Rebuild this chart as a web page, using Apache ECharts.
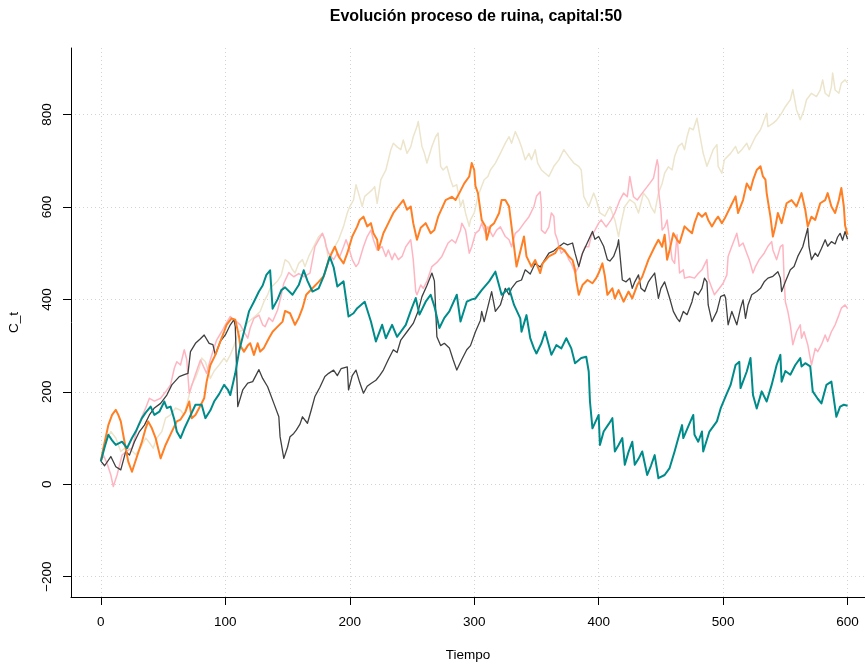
<!DOCTYPE html>
<html>
<head>
<meta charset="utf-8">
<title>Evolución proceso de ruina</title>
<script src="https://cdn.jsdelivr.net/npm/echarts@6/dist/echarts.min.js"></script>
<style>
  html, body { margin: 0; padding: 0; background: #fff; }
  #chart { width: 865px; height: 664px; }
</style>
</head>
<body>
<div id="chart"></div>
<script>
// ejes
var xTicks = [0, 100, 200, 300, 400, 500, 600];
var yTicks = [-200, 0, 200, 400, 600, 800];

// trayectorias [tiempo, capital]
var serieBeige = [[0,50],[4,92],[8,114],[12,100],[16,71],[20,80],[24,75],[28,64],[32,80],[36,100],[39,90],[42,78],[45,100],[49,114],[52,143],[56,150],[60,165],[64,160],[67,150],[69,172],[73,215],[76,230],[79,251],[81,273],[84,265],[88,229],[91,245],[95,258],[99,273],[101,265],[104,280],[107,300],[109,316],[111,330],[115,335],[118,350],[122,359],[125,366],[128,374],[131,395],[134,410],[136,424],[139,432],[142,440],[145,453],[148,486],[151,480],[154,464],[156,457],[159,478],[162,486],[164,471],[167,493],[171,514],[175,536],[178,543],[180,529],[183,486],[185,500],[188,514],[191,529],[195,558],[198,587],[200,601],[203,615],[205,648],[207,630],[210,601],[212,623],[215,630],[218,637],[220,644],[222,608],[225,659],[229,680],[233,724],[235,738],[238,730],[241,724],[243,745],[246,716],[249,730],[251,752],[254,774],[255,785],[258,731],[260,716],[262,695],[266,731],[269,752],[271,760],[273,688],[275,680],[278,688],[281,659],[283,644],[286,648],[289,601],[291,615],[293,587],[296,558],[297,572],[300,587],[303,623],[306,645],[308,659],[311,666],[313,680],[317,695],[321,716],[325,738],[328,752],[330,738],[333,763],[336,745],[338,730],[341,702],[344,716],[346,702],[349,724],[351,695],[354,680],[357,673],[360,666],[364,688],[368,702],[372,724],[376,709],[380,695],[384,688],[386,680],[388,623],[392,601],[396,630],[398,616],[401,587],[405,580],[409,601],[413,572],[416,536],[418,565],[421,601],[425,616],[429,608],[432,587],[436,630],[440,616],[442,601],[445,587],[448,630],[451,651],[453,673],[456,687],[459,680],[461,709],[464,731],[467,738],[469,724],[471,752],[473,771],[476,767],[479,792],[481,760],[484,716],[487,688],[489,702],[492,724],[495,735],[496,688],[499,673],[501,702],[506,716],[510,731],[512,716],[515,724],[519,738],[521,724],[526,752],[530,767],[532,781],[535,803],[536,774],[540,781],[543,788],[547,803],[550,817],[554,832],[556,854],[559,810],[562,789],[565,810],[567,832],[571,846],[575,839],[578,853],[580,875],[582,846],[585,839],[587,860],[588,890],[590,853],[593,846],[595,868],[598,875],[600,868]];

var serieRosa = [[0,50],[2,63],[5,45],[8,20],[10,-5],[13,20],[17,63],[21,72],[25,78],[30,128],[36,165],[39,186],[43,180],[48,186],[52,200],[56,215],[59,251],[61,265],[64,258],[67,291],[69,270],[71,197],[75,230],[80,269],[85,240],[88,270],[93,312],[97,330],[100,345],[104,363],[106,356],[109,352],[112,345],[115,330],[118,316],[120,338],[123,359],[127,366],[130,345],[132,341],[135,360],[138,352],[142,377],[145,410],[147,435],[151,458],[155,449],[159,456],[163,449],[168,457],[172,514],[175,529],[178,543],[180,529],[181,515],[183,500],[187,486],[190,500],[192,493],[195,514],[197,529],[199,514],[202,486],[205,471],[207,478],[211,514],[214,536],[217,550],[219,529],[222,507],[226,514],[229,493],[231,507],[234,486],[236,500],[239,486],[242,493],[245,514],[249,529],[251,486],[253,417],[254,410],[257,431],[259,424],[262,439],[266,471],[270,480],[274,493],[279,522],[282,529],[285,522],[289,550],[290,565],[293,550],[296,500],[298,514],[301,543],[304,550],[306,565],[309,543],[311,557],[315,536],[318,550],[321,557],[325,536],[328,529],[330,514],[333,543],[336,550],[340,565],[344,579],[348,601],[350,623],[353,633],[354,600],[354,550],[357,543],[360,557],[362,587],[364,580],[365,543],[367,528],[368,514],[370,500],[373,507],[376,486],[378,478],[381,457],[384,471],[386,493],[389,514],[392,514],[394,536],[397,550],[400,565],[402,572],[406,557],[410,572],[413,587],[417,615],[420,630],[423,622],[425,666],[428,622],[431,615],[435,630],[437,637],[441,651],[444,662],[447,702],[448,688],[448,637],[450,593],[451,550],[453,557],[455,572],[456,550],[459,486],[461,478],[463,540],[464,500],[465,457],[468,464],[469,446],[473,449],[477,446],[480,456],[483,464],[487,486],[488,446],[491,424],[493,410],[497,424],[500,435],[503,453],[504,493],[507,515],[511,543],[513,515],[516,522],[519,500],[521,486],[524,457],[526,471],[529,486],[533,500],[536,515],[539,525],[540,507],[543,486],[546,514],[548,518],[549,445],[550,395],[552,374],[554,345],[556,302],[559,330],[562,345],[563,316],[565,330],[568,302],[571,258],[574,294],[576,287],[579,302],[582,323],[584,309],[587,330],[590,345],[593,366],[595,381],[598,388],[600,380]];

var serieGris = [[0,50],[3,40],[8,60],[12,38],[16,31],[20,71],[23,63],[27,92],[31,114],[35,128],[39,150],[43,165],[48,175],[53,193],[57,215],[63,233],[67,237],[70,240],[72,287],[76,305],[80,315],[83,323],[87,305],[90,302],[92,280],[96,309],[100,323],[104,345],[107,356],[108,341],[110,168],[114,204],[118,219],[122,222],[127,248],[130,229],[134,211],[139,175],[143,146],[144,103],[147,56],[150,80],[152,103],[155,110],[157,117],[160,130],[162,146],[166,132],[169,160],[172,190],[176,210],[180,233],[183,240],[187,247],[190,235],[193,250],[198,254],[199,204],[202,235],[205,247],[208,220],[211,197],[214,212],[217,218],[221,225],[224,235],[227,247],[231,270],[235,291],[238,285],[241,312],[246,330],[251,348],[255,375],[258,406],[262,430],[266,457],[268,440],[270,319],[273,300],[276,305],[280,295],[283,270],[286,247],[290,270],[294,291],[297,300],[301,330],[305,355],[306,374],[308,352],[312,395],[314,417],[317,374],[321,388],[325,424],[328,410],[330,424],[334,438],[338,442],[341,464],[345,455],[349,478],[353,470],[360,500],[364,505],[368,514],[372,522],[375,518],[379,522],[381,500],[384,471],[387,500],[392,529],[395,547],[397,530],[400,536],[404,515],[407,486],[409,483],[412,493],[415,515],[416,529],[418,471],[419,442],[422,438],[425,446],[427,424],[429,438],[432,453],[434,424],[437,417],[440,438],[442,446],[445,457],[448,402],[450,424],[453,438],[457,403],[460,374],[463,359],[465,352],[468,374],[471,367],[475,395],[477,417],[480,410],[483,424],[485,446],[487,438],[488,388],[491,352],[495,374],[498,406],[501,410],[502,403],[504,345],[507,374],[511,345],[514,381],[516,399],[518,359],[520,388],[523,410],[527,417],[530,424],[533,438],[536,446],[540,450],[544,460],[546,446],[547,417],[550,438],[554,464],[557,471],[560,493],[564,514],[568,554],[569,514],[571,486],[574,500],[576,493],[579,510],[582,529],[584,515],[587,525],[590,520],[592,535],[594,543],[596,528],[598,547],[600,530]];

var serieNaranja = [[0,50],[2,78],[6,128],[9,150],[12,161],[14,150],[16,136],[19,92],[22,49],[25,27],[29,60],[33,92],[36,121],[38,136],[41,121],[44,100],[48,56],[52,85],[57,114],[61,136],[64,140],[68,157],[71,179],[73,143],[76,150],[79,165],[83,186],[85,222],[88,258],[92,280],[96,309],[99,330],[101,345],[105,359],[108,356],[111,320],[112,300],[115,287],[118,300],[120,305],[123,280],[126,305],[128,287],[131,295],[135,316],[138,330],[142,341],[146,352],[148,375],[152,370],[156,345],[159,360],[162,381],[165,410],[170,424],[175,438],[179,450],[180,457],[183,486],[188,514],[191,493],[195,478],[198,500],[202,536],[206,558],[208,572],[211,579],[214,558],[217,565],[219,543],[222,529],[223,507],[227,543],[231,565],[235,587],[239,601],[243,615],[246,594],[249,601],[251,565],[254,529],[257,555],[261,565],[265,543],[268,550],[271,579],[277,615],[282,622],[285,615],[288,630],[292,651],[296,666],[298,695],[300,680],[301,645],[303,630],[306,572],[309,558],[310,529],[313,558],[316,565],[320,587],[322,615],[325,615],[328,601],[329,579],[332,514],[334,471],[340,536],[342,493],[346,471],[349,485],[353,457],[355,478],[360,493],[365,500],[368,514],[372,507],[376,493],[379,485],[381,464],[382,440],[384,410],[387,431],[391,442],[395,435],[398,446],[400,457],[403,478],[405,450],[407,410],[411,424],[413,402],[416,420],[420,395],[424,417],[427,402],[431,431],[435,449],[440,486],[445,514],[448,529],[451,514],[453,540],[455,486],[457,507],[460,543],[463,529],[465,522],[469,558],[472,550],[475,543],[477,565],[480,587],[483,579],[486,587],[488,572],[491,558],[494,572],[496,579],[499,565],[502,579],[506,601],[510,623],[512,587],[516,615],[519,651],[522,637],[524,658],[527,680],[530,688],[532,666],[534,659],[535,630],[538,579],[540,536],[542,558],[544,587],[547,565],[551,608],[555,615],[559,601],[563,630],[566,594],[568,558],[571,579],[574,572],[578,608],[582,615],[584,630],[587,601],[590,587],[593,615],[595,641],[597,601],[598,560],[600,540]];

var serieVerde = [[0,50],[3,80],[6,107],[9,95],[12,85],[17,92],[21,78],[25,100],[28,114],[33,143],[36,155],[40,168],[43,150],[47,157],[51,179],[53,165],[56,168],[59,140],[61,114],[64,100],[67,120],[71,143],[76,172],[81,172],[84,143],[88,160],[91,179],[95,195],[99,215],[102,205],[104,193],[108,240],[111,287],[115,330],[119,374],[123,395],[127,417],[130,430],[133,453],[136,463],[138,380],[142,400],[145,420],[148,426],[154,410],[159,431],[163,463],[166,440],[170,417],[175,424],[179,450],[184,492],[187,470],[190,428],[195,439],[199,363],[203,370],[206,381],[212,395],[217,352],[221,309],[226,345],[229,316],[234,345],[238,319],[241,330],[245,345],[249,375],[253,403],[256,367],[261,395],[265,410],[268,385],[272,338],[276,360],[280,374],[286,410],[289,352],[294,395],[298,400],[301,402],[306,420],[312,439],[317,460],[322,410],[328,424],[332,388],[337,359],[338,330],[342,366],[345,316],[348,294],[350,283],[354,305],[357,330],[362,280],[366,301],[370,294],[374,316],[378,294],[381,262],[386,273],[390,276],[392,244],[393,179],[395,121],[400,150],[401,85],[404,114],[408,130],[411,143],[413,71],[416,85],[419,100],[421,42],[424,70],[427,92],[429,42],[432,55],[435,71],[439,20],[442,40],[445,63],[448,13],[453,20],[457,35],[461,71],[464,100],[467,128],[468,100],[472,125],[476,150],[477,107],[480,92],[483,114],[484,71],[489,114],[495,136],[498,164],[502,190],[506,215],[510,258],[513,265],[514,208],[519,244],[522,273],[524,193],[527,164],[531,201],[535,179],[539,215],[543,258],[546,280],[547,222],[550,245],[554,237],[558,258],[562,273],[563,255],[566,262],[570,255],[572,201],[576,185],[579,175],[583,215],[587,222],[591,146],[594,168],[597,172],[600,170]];

var FONT = 'Liberation Sans';

var myChart = echarts.init(document.getElementById('chart'));

function linea(datos, color, ancho) {
    return {
        type: 'line',
        data: datos,
        showSymbol: false,
        symbol: 'none',
        clip: true,
        lineStyle: { color: color, width: ancho, join: 'round' },
        itemStyle: { color: color },
        silent: true
    };
}

// signo menos tipografico como en R
function etiqueta(v) {
    return String(v).replace('-', '\u2212');
}

// rejilla punteada
var rejilla = [];
xTicks.forEach(function(v){ rejilla.push({ xAxis: v }); });
yTicks.forEach(function(v){ rejilla.push({ yAxis: v }); });

var serieRejilla = {
    type: 'line',
    data: [],
    silent: true,
    markLine: {
        z: 0,
        silent: true,
        symbol: ['none', 'none'],
        label: { show: false },
        lineStyle: { color: '#d3d3d3', type: [1, 3], width: 1 },
        data: rejilla
    }
};

var option = {
    animation: false,
    backgroundColor: '#fff',
    title: {
        text: 'Evolución proceso de ruina, capital:50',
        left: 471,
        top: 4,
        textAlign: 'center',
        textStyle: { fontFamily: FONT, fontSize: 16, fontWeight: 'bold', color: '#000' }
    },
    grid: { left: 71, right: 0, top: 48, bottom: 67, outerBoundsMode: 'none' },
    xAxis: {
        type: 'value',
        min: -24,
        max: 614,
        name: 'Tiempo',
        nameLocation: 'middle',
        nameGap: 51,
        nameTextStyle: { fontFamily: FONT, fontSize: 13.5, color: '#000' },
        axisLine: { show: true, onZero: false, lineStyle: { color: '#000', width: 1 } },
        axisTick: { show: true, length: 8, customValues: xTicks, lineStyle: { color: '#000' } },
        axisLabel: { customValues: xTicks, margin: 18, fontFamily: FONT, fontSize: 13.5, color: '#000' },
        splitLine: { show: false }
    },
    yAxis: {
        type: 'value',
        min: -244,
        max: 944,
        name: 'C_t',
        nameLocation: 'middle',
        nameRotate: 90,
        nameGap: 50,
        nameTextStyle: { fontFamily: FONT, fontSize: 13.5, color: '#000' },
        axisLine: { show: true, onZero: false, lineStyle: { color: '#000', width: 1 } },
        axisTick: { show: true, length: 8, customValues: yTicks, lineStyle: { color: '#000' } },
        axisLabel: { customValues: yTicks, rotate: 90, margin: 17, formatter: etiqueta, fontFamily: FONT, fontSize: 13.5, color: '#000' },
        splitLine: { show: false }
    },
    series: [
        serieRejilla,
        linea(serieBeige, '#ECE5CC', 1.5),
        linea(serieRosa, '#FFB5C1', 1.5),
        linea(serieGris, '#404040', 1.3),
        linea(serieNaranja, '#FF7F24', 2),
        linea(serieVerde, '#008B8B', 2)
    ]
};

myChart.setOption(option);
</script>
</body>
</html>
